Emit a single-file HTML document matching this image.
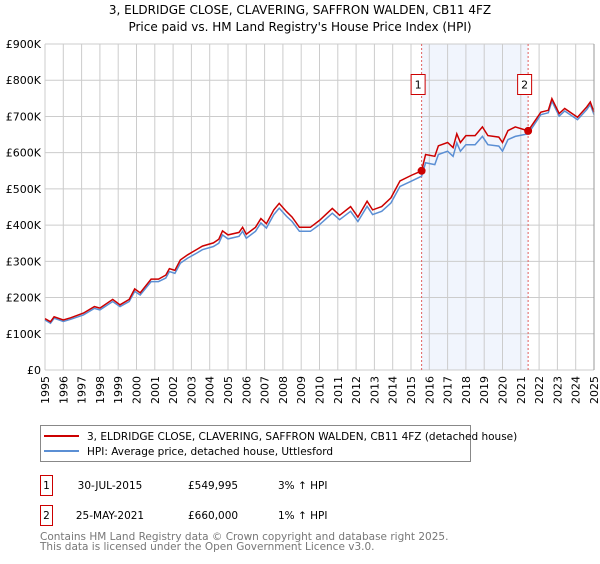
<!DOCTYPE html>
<html><head><meta charset="utf-8"><style>
body{margin:0;background:#fff;font-family:"DejaVu Sans","Liberation Sans",sans-serif;}
svg text{font-family:"DejaVu Sans","Liberation Sans",sans-serif;}
</style></head><body>
<svg id="chart" width="600" height="560" xmlns="http://www.w3.org/2000/svg">
<text x="300" y="14" text-anchor="middle" font-size="12">3, ELDRIDGE CLOSE, CLAVERING, SAFFRON WALDEN, CB11 4FZ</text>
<text x="300" y="31" text-anchor="middle" font-size="12">Price paid vs. HM Land Registry's House Price Index (HPI)</text>
<g id="grid"></g>
<g id="marks"></g>
<g id="axes"></g>
<g>
<rect x="40.5" y="425.5" width="430" height="36" fill="#fff" stroke="#888"/>
<line x1="44" y1="436" x2="79" y2="436" stroke="#cc0000" stroke-width="2"/>
<text x="87" y="440" font-size="10.5">3, ELDRIDGE CLOSE, CLAVERING, SAFFRON WALDEN, CB11 4FZ (detached house)</text>
<line x1="44" y1="451" x2="79" y2="451" stroke="#5b8fd4" stroke-width="2"/>
<text x="87" y="455" font-size="10.5">HPI: Average price, detached house, Uttlesford</text>
</g>
<g font-size="10.5">
<rect x="40.5" y="475.5" width="12" height="20" fill="#fff" stroke="#cc0000"/>
<text x="46.5" y="489" text-anchor="middle">1</text>
<text x="110" y="489" text-anchor="middle">30-JUL-2015</text>
<text x="188" y="489">£549,995</text>
<text x="278" y="489">3% ↑ HPI</text>
<rect x="40.5" y="505.5" width="12" height="20" fill="#fff" stroke="#cc0000"/>
<text x="46.5" y="519" text-anchor="middle">2</text>
<text x="110" y="519" text-anchor="middle">25-MAY-2021</text>
<text x="188" y="519">£660,000</text>
<text x="278" y="519">1% ↑ HPI</text>
</g>
<text x="40" y="540" font-size="10.5" fill="#777">Contains HM Land Registry data © Crown copyright and database right 2025.</text>
<text x="40" y="550" font-size="10.5" fill="#777">This data is licensed under the Open Government Licence v3.0.</text>
</svg>
<script>
const years=[1995.0,1995.3,1995.5,1996.0,1996.4,1997.1,1997.7,1998.0,1998.7,1999.1,1999.6,1999.9,2000.2,2000.8,2001.2,2001.6,2001.8,2002.1,2002.4,2002.8,2003.3,2003.6,2004.2,2004.5,2004.7,2005.0,2005.6,2005.8,2006.0,2006.5,2006.8,2007.1,2007.5,2007.8,2008.2,2008.5,2008.9,2009.5,2010.0,2010.7,2011.1,2011.7,2012.1,2012.6,2012.9,2013.4,2013.9,2014.4,2015.0,2015.58,2015.8,2016.3,2016.5,2017.0,2017.3,2017.5,2017.7,2018.0,2018.5,2018.9,2019.2,2019.8,2020.0,2020.3,2020.7,2021.4,2022.1,2022.5,2022.7,2023.1,2023.4,2024.1,2024.6,2024.8,2025.0];
const hpi=[138,129,143,134,140,152,170,166,189,175,189,217,207,244,244,254,272,267,295,309,323,332,341,350,373,362,369,383,364,383,406,392,429,447,424,410,383,383,401,433,415,438,410,452,429,438,461,507,521,535,572,567,595,604,590,627,604,622,622,645,622,618,604,636,645,652,705,710,742,701,715,691,719,733,705];
const price=[142,133,147,138,144,157,175,171,195,180,195,224,213,251,251,262,280,275,304,318,333,342,351,361,384,373,380,394,375,394,418,404,442,460,437,422,394,394,413,446,427,451,422,466,442,451,475,522,537,550,595,590,619,628,614,652,628,647,647,671,647,643,628,661,671,660,712,717,749,708,722,698,726,740,712];
const saleYears=[2015.58,2021.4];
const salePrices=[549.995,660];
const saleLabels=["1","2"];
const yTicks=[0,100,200,300,400,500,600,700,800,900];
const yTickLabels=["£0","£100K","£200K","£300K","£400K","£500K","£600K","£700K","£800K","£900K"];
const xTicks=[1995,1996,1997,1998,1999,2000,2001,2002,2003,2004,2005,2006,2007,2008,2009,2010,2011,2012,2013,2014,2015,2016,2017,2018,2019,2020,2021,2022,2023,2024,2025];

const X0=45,X1=594,Y0=370,Y1=44;
const xs=y=>X0+(y-1995)/30*(X1-X0);
const ys=v=>Y0-v/900*(Y0-Y1);
const NS="http://www.w3.org/2000/svg";
function mk(tag,attrs,parent){const e=document.createElementNS(NS,tag);for(const k in attrs)e.setAttribute(k,attrs[k]);parent.appendChild(e);return e;}
const grid=document.getElementById('grid'),marks=document.getElementById('marks'),axes=document.getElementById('axes');
const sh=mk('rect',{x:xs(saleYears[0]),y:Y1,width:xs(saleYears[1])-xs(saleYears[0]),height:Y0-Y1,fill:'#eef3fd',opacity:0.8},grid);


yTicks.forEach((t,i)=>{
 const l=mk('line',{x1:X0,x2:X1,y1:ys(t),y2:ys(t),stroke:'#ccc','stroke-width':1},grid);
 
 
 const tx=mk('text',{x:X0-4,y:ys(t)+4,'text-anchor':'end','font-size':11},axes);
 tx.textContent=yTickLabels[i];
 
 
});
xTicks.forEach(t=>{
 const l=mk('line',{x1:xs(t),x2:xs(t),y1:Y1,y2:Y0,stroke:'#ccc','stroke-width':1},grid);
 
 
 const tx=mk('text',{x:0,y:0,'text-anchor':'end','font-size':11,transform:`translate(${xs(t)+4},${Y0+6}) rotate(-90)`},axes);
 tx.textContent=t;
 
 
});
saleYears.forEach((y,i)=>{
 const l=mk('line',{x1:xs(y),x2:xs(y),y1:Y1,y2:Y0,stroke:'#e06060','stroke-width':1,'stroke-dasharray':'2,2'},marks);
 
 
});
function path(arr){return years.map((y,i)=>(i?'L':'M')+xs(y).toFixed(1)+','+ys(arr[i]).toFixed(1)).join('');}
const ph=mk('path',{d:path(hpi),fill:'none',stroke:'#5b8fd4','stroke-width':1.5},marks);


const pp=mk('path',{d:path(price),fill:'none',stroke:'#cc0000','stroke-width':1.5},marks);


saleYears.forEach((y,i)=>{
 const c=mk('circle',{cx:xs(y),cy:ys(salePrices[i]),r:4,fill:'#cc0000'},marks);
 
 
 const bx=xs(y)-3.5;
 const r=mk('rect',{x:bx-7,y:74.5,width:14,height:20,fill:'#fff',stroke:'#cc0000'},marks);
 
 
 const t=mk('text',{x:bx,y:88.5,'text-anchor':'middle','font-size':11},marks);
 t.textContent=saleLabels[i];
 
 
});
const rb=mk('line',{x1:X1,x2:X1,y1:Y1,y2:Y0,stroke:'#999','stroke-width':1},axes);


</script>
</body></html>
